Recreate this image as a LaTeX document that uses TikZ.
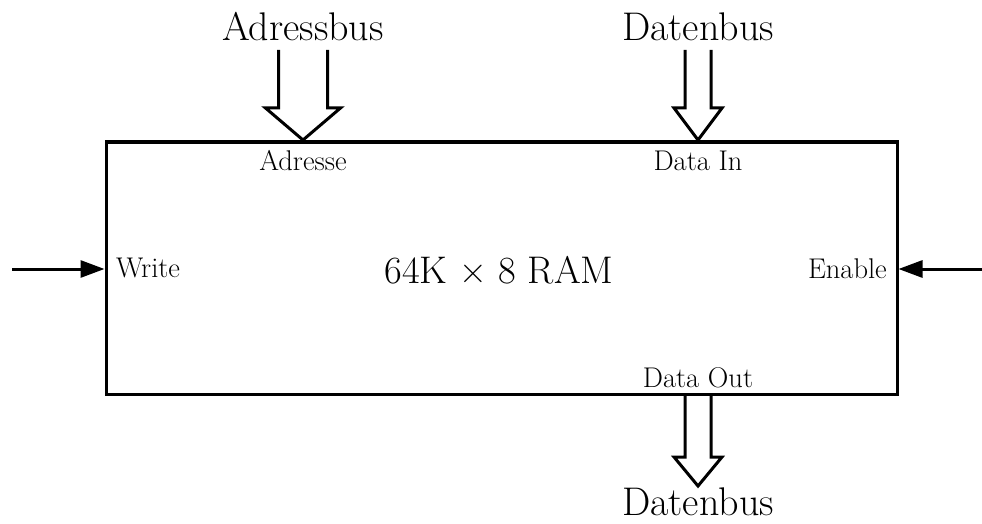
\documentclass[tikz,border=0pt]{standalone}
\usepackage{fontspec}
\usetikzlibrary{arrows.meta,calc}
\begin{document}
\begin{tikzpicture}[x=1pt,y=-1pt,
  box/.style={draw,line width=3pt,inner sep=0pt,minimum width=791pt,minimum height=252pt},
  big/.style={font=\fontsize{40}{44}\selectfont,inner sep=0pt},
  mid/.style={font=\fontsize{38.5}{42}\selectfont,inner sep=0pt},
  small/.style={font=\fontsize{28.5}{32}\selectfont,inner sep=0pt},
  sig/.style={line width=3pt,-{Triangle[length=24pt,width=17pt]}},
  bus/.style={line width=3pt,line join=miter,miter limit=10}]
\useasboundingbox (0,0) rectangle (982,524);
\node[box] (ram) at (501.5,268) {};
\node[mid,anchor=base] (title) at (499,283) {64K × 8 RAM};
% labels
\node[big,anchor=base] (adrbus) at (303,41) {Adressbus};
\node[big,anchor=base] (dbusin) at (698,41) {Datenbus};
\node[big,anchor=base] (dbusout) at (698,515) {Datenbus};
\node[small,anchor=base] (adr) at (303,170) {Adresse};
\node[small,anchor=base] (din) at (698,170) {Data In};
\node[small,anchor=base] (dout) at (698,387) {Data Out};
\node[small,anchor=base west] (write) at (116,277) {Write};
\node[small,anchor=base east] (enable) at (887,278) {Enable};
% signal arrows
\coordinate (wsrc) at (12,269);
\coordinate (esrc) at (982,269);
\draw[sig] (wsrc) -- (ram.west|-wsrc);
\draw[sig] (esrc) -- (ram.east|-esrc);
% bus arrows
\coordinate (adrtip) at (303,140);
\draw[bus] ($(adrtip)+(-24.5,-90)$) |- ($(adrtip)+(-37.5,-32)$) -- (adrtip)
  -- ($(adrtip)+(37.5,-32)$) -| ($(adrtip)+(24.5,-90)$);
\coordinate (dintip) at (698,140);
\draw[bus] ($(dintip)+(-13,-90)$) |- ($(dintip)+(-24,-32)$) -- (dintip)
  -- ($(dintip)+(24,-32)$) -| ($(dintip)+(13,-90)$);
\coordinate (douttip) at (698,486);
\draw[bus] ($(douttip)+(-13,-92)$) |- ($(douttip)+(-24,-29)$) -- (douttip)
  -- ($(douttip)+(24,-29)$) -| ($(douttip)+(13,-92)$);
\end{tikzpicture}
\end{document}
